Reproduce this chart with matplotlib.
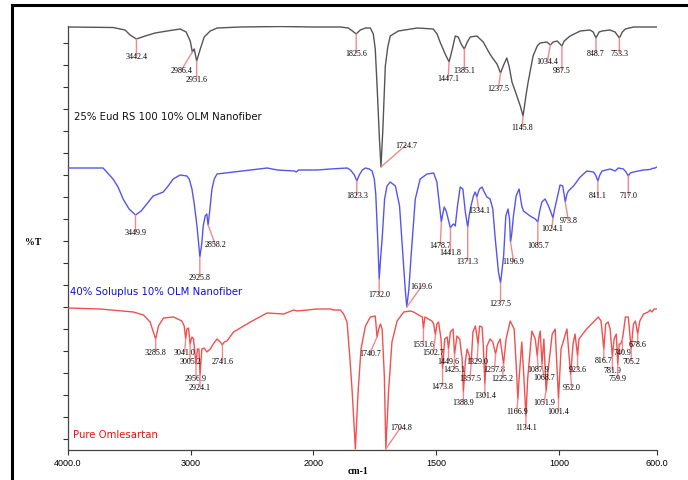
import numpy as np
import matplotlib
matplotlib.use("Agg")
import matplotlib.pyplot as plt
from matplotlib.lines import Line2D

# ---------------- data (wavenumber cm-1, %T in arbitrary offset units) ----------------
eud_wn = [4000, 3633, 3535, 3494, 3442.4, 3371, 3290, 3192, 3086, 3037, 3004, 2986.4, 2971, 2951.6,
          2922, 2890, 2841, 2784, 2596, 2269, 2000, 1890, 1858, 1841, 1825.6, 1809, 1788, 1768, 1756,
          1748, 1740, 1731, 1724.7, 1717, 1707, 1697, 1687, 1654, 1577, 1512, 1496, 1484, 1463, 1447.1,
          1434, 1422, 1410, 1398, 1385.1, 1373, 1361, 1334, 1308, 1288, 1273, 1252, 1237.5, 1225, 1212,
          1202, 1191, 1178, 1171, 1157, 1145.8, 1133, 1125, 1105, 1088, 1076, 1049, 1034.4, 1023, 1007,
          995, 987.5, 978, 954, 913, 873, 860, 848.7, 836, 824, 792, 771, 753.3, 741, 729, 696, 647, 600]
eud_t = [423, 422.5, 420, 415, 411, 414, 417, 419, 421, 418, 409, 398, 401, 389,
         401, 413, 419, 422, 423, 423.5, 423, 423, 422, 419, 416, 420, 422, 422, 416,
         401, 361, 311, 283, 321, 384, 403, 414, 419, 422, 421, 416, 408, 396, 388,
         401, 414, 413, 406, 401, 408, 413, 414, 408, 399, 393, 386, 377, 385, 392,
         383, 368, 359, 354, 344, 334, 356, 368, 394, 404, 407, 408, 405, 408, 409,
         406, 404, 409, 414, 419, 420, 418, 412, 418, 419, 420, 418, 412, 418, 421, 423, 423, 423]

sol_wn = [4000, 3714, 3633, 3592, 3551, 3502, 3449.9, 3404, 3358, 3306, 3224, 3184, 3143, 3086, 3031,
          3012, 2990, 2971, 2949, 2935, 2925.8, 2910, 2898, 2882, 2869, 2858.2, 2845, 2827, 2808, 2786,
          2718, 2653, 2514, 2376, 2335, 2294, 2229, 2155, 2139, 2122, 1984, 1931, 1862, 1849, 1833,
          1823.3, 1813, 1801, 1788, 1772, 1761, 1752, 1746, 1738, 1732.0, 1725, 1720, 1710, 1700, 1687,
          1666, 1649, 1635, 1626, 1619.6, 1611, 1602, 1585, 1565, 1537, 1510, 1497, 1486, 1478.7, 1473,
          1467, 1459, 1449, 1441.8, 1434, 1429, 1422, 1413, 1402, 1391, 1381, 1371.3, 1365, 1358, 1348,
          1341, 1334.1, 1328, 1323, 1313, 1304, 1293, 1280, 1269, 1259, 1246, 1237.5, 1225, 1216, 1207,
          1201, 1196.9, 1192, 1185, 1174, 1162, 1151, 1144, 1117, 1096, 1085.7, 1078, 1069, 1056, 1042,
          1031, 1024.1, 1017, 1008, 995, 984, 973.8, 967, 961, 940, 913, 886, 859, 850, 841.1, 833, 824,
          790, 771, 757, 737, 726, 717.0, 709, 696, 655, 628, 620, 608, 600]
sol_t = [282, 282, 271, 263, 251, 241, 235, 239, 246, 254, 258, 264, 271, 275, 274,
         271, 261, 246, 224, 206, 193, 206, 224, 234, 236, 225, 239, 261, 271, 276,
         277, 278, 280, 282, 281, 280, 279.5, 279, 278, 280, 280, 281, 282, 280, 275,
         269, 275, 280, 282, 281, 279, 271, 256, 211, 171, 196, 211, 251, 264, 268,
         264, 244, 194, 161, 143, 161, 194, 251, 271, 276, 277, 268, 244, 228, 236,
         243, 239, 229, 222, 225, 226, 224, 244, 263, 261, 238, 223, 235, 244, 254,
         258, 253, 258, 261, 263, 258, 253, 251, 241, 211, 178, 167, 194, 234, 241,
         231, 208, 216, 234, 254, 261, 244, 239, 234, 231, 228, 239, 248, 251, 244,
         237, 232, 241, 251, 265, 264, 248, 256, 259, 264, 273, 279, 278, 275, 269, 275, 279,
         281, 279, 282, 281, 278, 274, 277, 278, 280, 280.5, 281.5, 282, 283]

olm_wn = [4000, 3739, 3467, 3385, 3331, 3304, 3285.8, 3278, 3263, 3222, 3140, 3072, 3053, 3041.0, 3031,
          3018, 3005.2, 2990, 2977, 2956.9, 2945, 2933, 2924.1, 2909, 2890, 2868, 2841, 2816, 2786, 2759,
          2741.6, 2727, 2705, 2651, 2514, 2378, 2242, 2161, 2133, 1985, 1931, 1917, 1890, 1877, 1863,
          1852, 1842, 1829, 1818, 1806, 1788, 1768, 1748, 1740.7, 1734, 1727, 1720, 1711, 1704.8, 1694,
          1680, 1659, 1632, 1605, 1592, 1564, 1556, 1551.6, 1546, 1517, 1510, 1502.7, 1497, 1490, 1480,
          1473.8, 1465, 1455, 1449.6, 1442, 1431, 1425.1, 1415, 1404, 1394, 1388.9, 1381, 1374, 1367,
          1357.5, 1350, 1340, 1329.0, 1323, 1313, 1308, 1301.4, 1293, 1280, 1269, 1257.8, 1249, 1239,
          1225.2, 1215, 1198, 1182, 1174, 1166.9, 1162, 1151, 1142, 1134.1, 1127, 1110, 1096, 1087.9,
          1082, 1076, 1068.7, 1061, 1051.9, 1043, 1027, 1015, 1001.4, 991, 967, 952.0, 942, 934, 923.6,
          918, 887, 859, 839, 828, 816.7, 809, 799, 791, 781.9, 775, 766, 759.9, 754, 748, 740.9, 735,
          729, 717, 705.2, 696, 688, 678.6, 670, 655, 636, 628, 620, 612, 600]
olm_t = [142, 141, 138, 135, 128, 118, 111, 115, 124, 132, 133, 129, 124, 111, 121,
         122, 106, 113, 111, 86, 101, 101, 75, 101, 102, 98, 101, 106, 111, 108,
         105, 108, 109, 118, 128, 137, 136, 140, 139, 141, 141, 140, 140, 136, 128,
         94, 58, 1, 58, 101, 124, 133, 134, 113, 121, 126, 121, 74, 1, 58,
         108, 129, 138, 139, 138, 134, 133, 121, 133, 129, 126, 115, 126, 128, 111,
         81, 111, 113, 101, 118, 121, 96, 114, 111, 91, 58, 88, 101, 96,
         86, 118, 124, 106, 124, 123, 106, 66, 104, 111, 108, 96, 106, 111,
         86, 111, 129, 121, 86, 51, 71, 108, 71, 34, 71, 119, 111, 94,
         111, 119, 86, 111, 59, 81, 116, 121, 51, 101, 121, 75, 106, 116, 94,
         111, 121, 128, 133, 129, 101, 126, 128, 121, 93, 111, 116, 86, 106, 106, 111, 121,
         133, 133, 101, 126, 129, 116, 129, 136, 138, 140, 138, 141, 141]

# peak labels: wavenumbers
eud_peaks = [3442.4, 2986.4, 2951.6, 1825.6, 1724.7, 1447.1, 1385.1, 1237.5, 1145.8, 1034.4, 987.5, 848.7, 753.3]
sol_peaks = [3449.9, 2925.8, 2858.2, 1823.3, 1732.0, 1619.6, 1478.7, 1441.8, 1371.3, 1334.1, 1237.5,
             1196.9, 1085.7, 1024.1, 973.8, 841.1, 717.0]
olm_peaks = [3285.8, 3041.0, 3005.2, 2956.9, 2924.1, 2741.6, 1740.7, 1704.8, 1551.6, 1502.7, 1473.8,
             1449.6, 1425.1, 1388.9, 1357.5, 1329.0, 1301.4, 1257.8, 1225.2, 1166.9, 1134.1, 1087.9,
             1068.7, 1051.9, 1001.4, 952.0, 923.6, 816.7, 781.9, 759.9, 740.9, 705.2, 678.6]

series_names = ["25% Eud RS 100 10% OLM Nanofiber", "40% Soluplus 10% OLM Nanofiber", "Pure Omlesartan"]
x_ticks = [4000, 3000, 2000, 1500, 1000, 600]
x_ticklabels = ["4000.0", "3000", "2000", "1500", "1000", "600.0"]

# ---------------- styling / layout (pixel offsets of labels from troughs) ----------------
eud_off = [(0, -17), (-11, -18), (0, -18), (0, -19), (25, 22), (-1, -16), (0, -21), (-2, -15), (-1, -11),
           (-3, -16), (0, -24), (0, -15), (0, -15)]
sol_off = [(0, -17), (0, -20), (7, -19), (0, -14), (0, -15), (15, 21), (-1, -23), (0, -24), (0, -34),
           (2, -13), (0, -20), (3, -19), (0, -23), (-1, -10), (3, -18), (0, -14), (0, -19)]
olm_off = [(0, -13), (-1, -13), (0, -17), (0, -14), (0, -12), (0, -16), (-7, -16), (15, 22), (0, -15),
           (-2, -17), (0, -17), (0, -12), (0, -15), (0, -10), (-1, -14), (-1, -17), (0, -11), (-1, -15),
           (-1, -14), (-1, -12), (0, -11), (1, -13), (2, -13), (-2, -11), (0, -12), (1, -12), (0, -13),
           (0, -11), (0, -13), (0, -14), (0, -13), (0, -12), (0, -10)]

W, H = 688, 481
fig = plt.figure(figsize=(W / 100, H / 100), dpi=100)
ax = fig.add_axes([68 / W, 1 - 451 / H, (657 - 68) / W, (451 - 27) / H])


def fwd(x):
    x = np.asarray(x, dtype=float)
    return np.where(x <= 2000, x, 2000 + (x - 2000) / 2.0)


def inv(y):
    y = np.asarray(y, dtype=float)
    return np.where(y <= 2000, y, 2000 + (y - 2000) * 2.0)


ax.set_xscale("function", functions=(fwd, inv))
ax.set_xlim(4000, 600)
ax.set_ylim(0, 424)

colors = ["#555555", "#5555ee", "#f05050"]
text_colors = ["#111111", "#1010dd", "#ee1010"]
peak_color = "#f08a8a"

datasets = [(eud_wn, eud_t, eud_peaks, eud_off), (sol_wn, sol_t, sol_peaks, sol_off),
            (olm_wn, olm_t, olm_peaks, olm_off)]

for (wn, t, peaks, offs), c in zip(datasets, colors):
    ax.plot(wn, t, color=c, lw=1.0, zorder=3)
    wn_a = np.array(wn)[::-1]
    t_a = np.array(t)[::-1]
    for p, (dx, dy) in zip(peaks, offs):
        yv = float(np.interp(p, wn_a, t_a))
        ax.annotate(f"{p:.1f}", xy=(p, yv), xytext=(dx, dy), textcoords="offset pixels",
                    ha="center", va="center", fontsize=5.8, family="Liberation Serif",
                    color="black", zorder=4,
                    arrowprops=dict(arrowstyle="-", color=peak_color, lw=1.0,
                                    shrinkA=0, shrinkB=0, patchA=None),
                    annotation_clip=False)

label_pos = [(3955, 334), (3984, 159), (3959, 16)]
for name, (lx, ly), tc in zip(series_names, label_pos, text_colors):
    ax.text(lx, ly, name, color=tc, fontsize=7.3, family="DejaVu Sans", ha="left", va="center")

ax.set_xticks(x_ticks)
ax.set_xticklabels(x_ticklabels, fontsize=6.5, family="Liberation Sans")
ax.xaxis.set_minor_locator(matplotlib.ticker.NullLocator())
ax.set_yticks(np.arange(11, 424, 22))
ax.set_yticklabels([])
ax.tick_params(axis="both", direction="out", length=3.5, width=0.8, color="#333333", pad=2)
for s in ["top", "right"]:
    ax.spines[s].set_visible(False)
for s in ["left", "bottom"]:
    ax.spines[s].set_color("#444444")
    ax.spines[s].set_linewidth(0.9)

fig.text(33 / W, 1 - 243 / H, "%T", fontsize=7, family="Liberation Serif", weight="bold",
         ha="center", va="center")
fig.text(358 / W, 1 - 472 / H, "cm-1", fontsize=7, family="Liberation Serif", weight="bold",
         ha="center", va="center")

# outer frame (left and top edges visible)
fig.add_artist(Line2D([12 / W, 12 / W], [0, 1 - 6 / H], color="black", lw=2.2))
fig.add_artist(Line2D([12 / W, 1], [1 - 6 / H, 1 - 6 / H], color="black", lw=2.2))

fig.savefig("out.png", dpi=100)
